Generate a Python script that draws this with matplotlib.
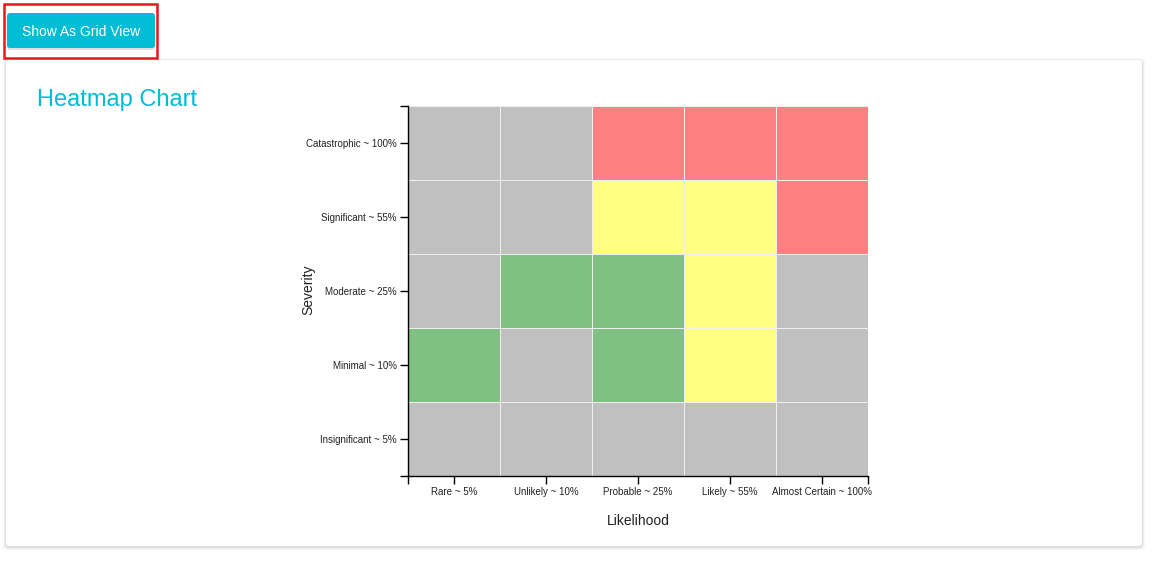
import numpy as np
import matplotlib

matplotlib.use("Agg")
import matplotlib.pyplot as plt
from matplotlib.colors import ListedColormap
from matplotlib.patches import FancyBboxPatch, Rectangle

plt.rcParams["font.family"] = ["Liberation Sans", "DejaVu Sans"]

# data
likelihood = ["Rare ~ 5%", "Unlikely ~ 10%", "Probable ~ 25%", "Likely ~ 55%", "Almost Certain ~ 100%"]
severity = ["Insignificant ~ 5%", "Minimal ~ 10%", "Moderate ~ 25%", "Significant ~ 55%", "Catastrophic ~ 100%"]
# 0 = none (gray), 1 = low (green), 2 = medium (yellow), 3 = high (red); rows bottom -> top
risk_level = [
    [0, 0, 0, 0, 0],
    [1, 0, 1, 2, 0],
    [0, 1, 1, 2, 0],
    [0, 0, 2, 2, 3],
    [0, 0, 3, 3, 3],
]
level_colors = ["#c0c0c0", "#80c080", "#ffff80", "#ff8080"]

W, H = 1157, 567
fig = plt.figure(figsize=(W / 100, H / 100), dpi=100)
fig.patch.set_facecolor("white")

# page layer in pixel coords
bg = fig.add_axes([0, 0, 1, 1], zorder=0)
bg.set_xlim(0, W)
bg.set_ylim(H, 0)
bg.axis("off")

# card shadow + card
for i, a in enumerate([0.03, 0.04, 0.06]):
    d = 3 - i
    bg.add_patch(FancyBboxPatch((6 - d, 60 - d + 1), 1136 + 2 * d, 486 + 2 * d,
                                boxstyle="round,pad=0,rounding_size=5",
                                fc="black", ec="none", alpha=a))
bg.add_patch(FancyBboxPatch((6, 60), 1136, 486, boxstyle="round,pad=0,rounding_size=4",
                            fc="white", ec="none"))

# button
bg.add_patch(FancyBboxPatch((7, 15), 148, 35, boxstyle="round,pad=0,rounding_size=3",
                            fc="black", ec="none", alpha=0.12))
bg.add_patch(FancyBboxPatch((7, 13), 148, 35, boxstyle="round,pad=0,rounding_size=3",
                            fc="#00bcd4", ec="none"))
bg.text(81, 31.5, "Show As Grid View", color="white", fontsize=10, ha="center", va="center")
bg.add_patch(Rectangle((3.5, 3.5), 153, 54, fc="none", ec="#e8151b", lw=1.8))

bg.text(37, 100, "Heatmap Chart", color="#00bcd4", fontsize=17, ha="left", va="center")
bg.text(638, 521, "Likelihood", color="#222222", fontsize=10, ha="center", va="center")
bg.text(308, 290, "Severity", color="#222222", fontsize=10, ha="center", va="center", rotation=90)

# heatmap
left, right, top, bottom = 408, 868, 106, 476
ax = fig.add_axes([left / W, 1 - bottom / H, (right - left) / W, (bottom - top) / H], zorder=1)
ax.pcolormesh(np.array(risk_level), cmap=ListedColormap(level_colors), vmin=-0.5, vmax=3.5,
              edgecolors="#eeeeee", linewidth=0.7)
ax.set_xlim(0, 5)
ax.set_ylim(0, 5)
for s in ["top", "right"]:
    ax.spines[s].set_visible(False)
for s in ["left", "bottom"]:
    ax.spines[s].set_color("black")
    ax.spines[s].set_linewidth(1.0)

ax.set_xticks(np.arange(5) + 0.5)
ax.set_xticklabels(likelihood)
ax.set_yticks(np.arange(5) + 0.5)
ax.set_yticklabels(severity)
ax.set_xticks([0, 5], minor=True)
ax.set_yticks([0, 5], minor=True)
ax.tick_params(which="both", direction="out", length=6, width=1, color="black",
               labelsize=7, labelcolor="#222222", pad=2)

fig.savefig("out.png", dpi=100)
